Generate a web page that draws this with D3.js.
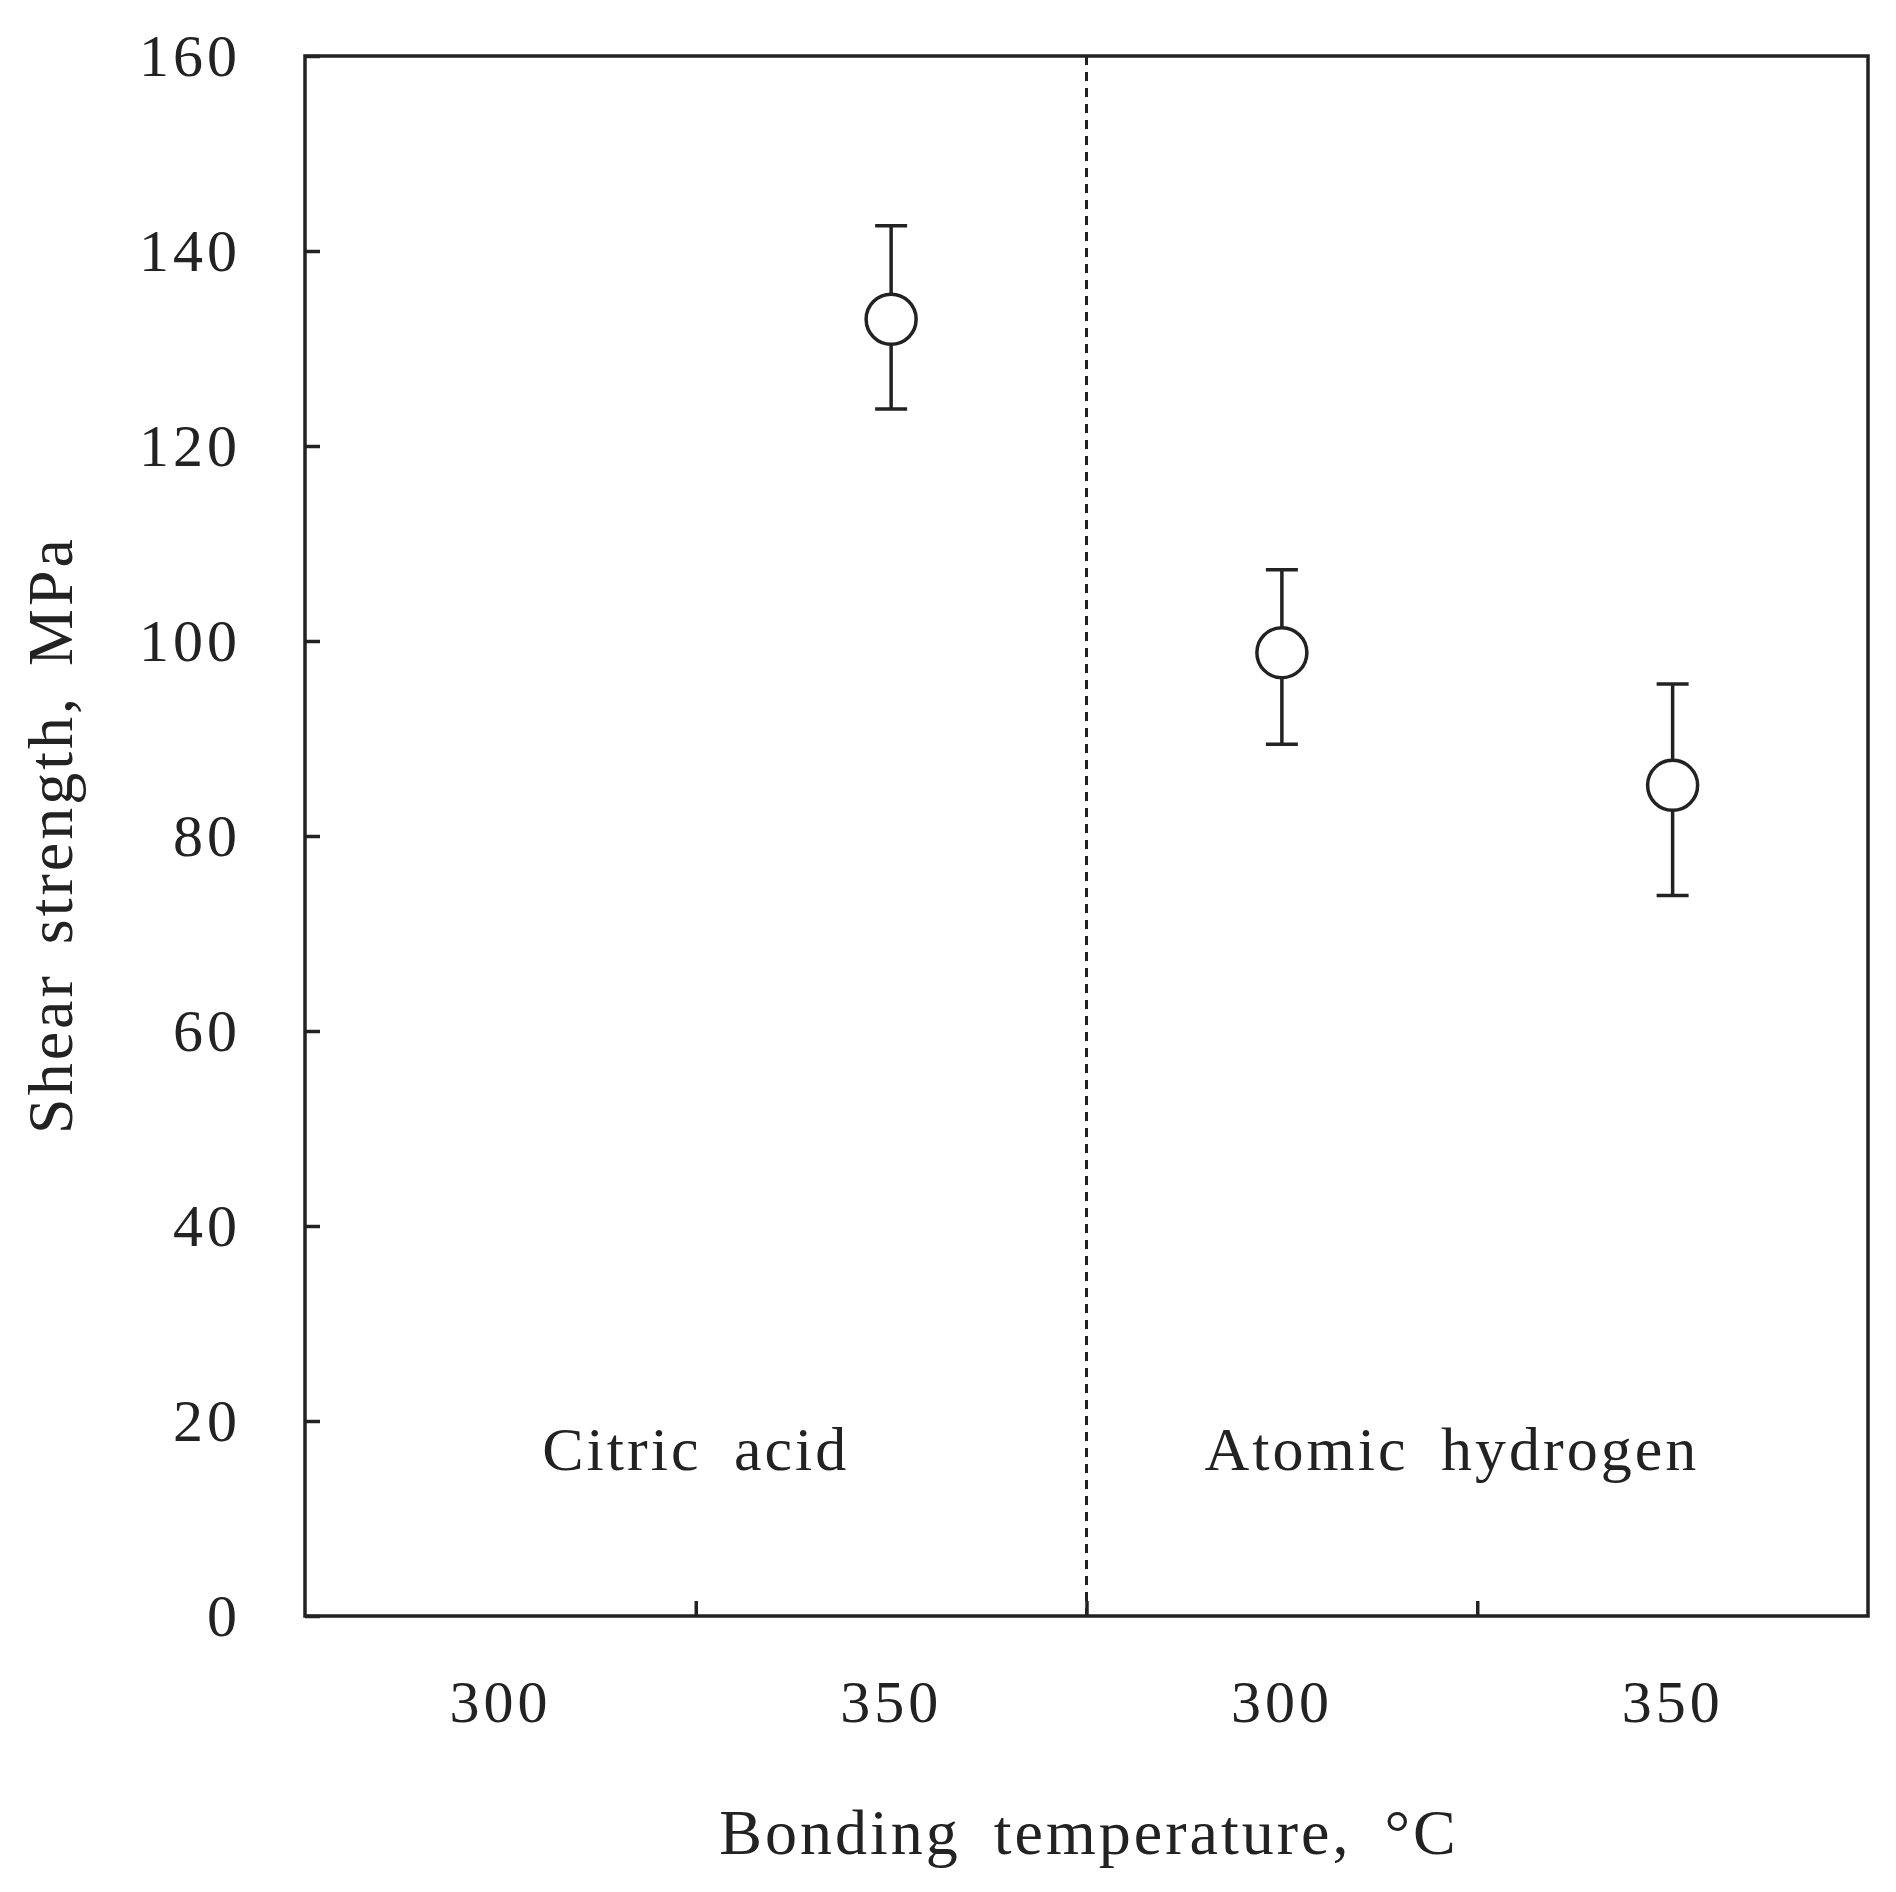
<!DOCTYPE html><html><head><meta charset="utf-8"><script src="https://cdn.jsdelivr.net/npm/d3@7"></script>
<style>body{margin:0;background:#fff}text{font-family:"Liberation Serif","DejaVu Serif",serif;fill:#222}</style></head><body><svg id="c" width="1896" height="1892"></svg><script>
const positions=[3,5,7];
const values=[133,98.8,85.2];
const errLow=[123.8,89.4,73.9];
const errHigh=[142.6,107.3,95.6];
const xTickPos=[1,3,5,7];
const xTickLabels=["300","350","300","350"];
const minorTicks=[2,4,6];
const groups=["Citric acid","Atomic hydrogen"];
const groupPos=[2,5.87];
const yTicks=[0,20,40,60,80,100,120,140,160];
const svg=d3.select("#c");
const L=305,R=1868,T=56,B=1616;
const x=d3.scaleLinear().domain([0,8]).range([L,R]);
const y=d3.scaleLinear().domain([0,160]).range([B,T]);
const col="#222",lw=3.5;
svg.append("rect").attr("x",L).attr("y",T).attr("width",R-L).attr("height",B-T).attr("fill","none").attr("stroke",col).attr("stroke-width",lw);
const ya=svg.append("g").attr("transform",`translate(${L},0)`).call(d3.axisLeft(y).tickValues(yTicks).tickSize(-15).tickPadding(64));
const xa=svg.append("g").attr("transform",`translate(0,${B})`).call(d3.axisBottom(x).tickValues(minorTicks).tickSize(-15).tickFormat(""));
[ya,xa].forEach(a=>{a.select(".domain").remove();a.selectAll("line").attr("stroke",col).attr("stroke-width",lw);a.selectAll("text").attr("font-size",60).attr("letter-spacing",4).attr("fill",col).style("font-family","Liberation Serif");});
svg.selectAll(".xl").data(xTickPos).join("text").attr("x",d=>x(d)).attr("y",1722).attr("text-anchor","middle").attr("font-size",60).attr("letter-spacing",4).text((d,i)=>xTickLabels[i]);
svg.append("line").attr("x1",x(4)).attr("x2",x(4)).attr("y1",T).attr("y2",B).attr("stroke",col).attr("stroke-width",3).attr("stroke-dasharray","9,7");
svg.selectAll(".gl").data(groups).join("text").attr("x",(d,i)=>x(groupPos[i])).attr("y",1470).attr("text-anchor","middle").attr("font-size",62).attr("letter-spacing",3).attr("word-spacing","14").text(d=>d);
const g=svg.append("g");
positions.forEach((p,i)=>{
 g.append("line").attr("x1",x(p)).attr("x2",x(p)).attr("y1",y(errLow[i])).attr("y2",y(errHigh[i])).attr("stroke",col).attr("stroke-width",lw);
 [errLow[i],errHigh[i]].forEach(v=>g.append("line").attr("x1",x(p)-16).attr("x2",x(p)+16).attr("y1",y(v)).attr("y2",y(v)).attr("stroke",col).attr("stroke-width",lw));
 g.append("circle").attr("cx",x(p)).attr("cy",y(values[i])).attr("r",25).attr("fill","#fff").attr("stroke",col).attr("stroke-width",lw);
});
svg.append("text").attr("x",1089).attr("y",1854).attr("text-anchor","middle").attr("font-size",64).attr("letter-spacing",3).attr("word-spacing","14").text("Bonding temperature, °C");
svg.append("text").attr("transform",`translate(72,835) rotate(-90)`).attr("text-anchor","middle").attr("font-size",64).attr("letter-spacing",3).attr("word-spacing","10").text("Shear strength, MPa");
</script></body></html>
